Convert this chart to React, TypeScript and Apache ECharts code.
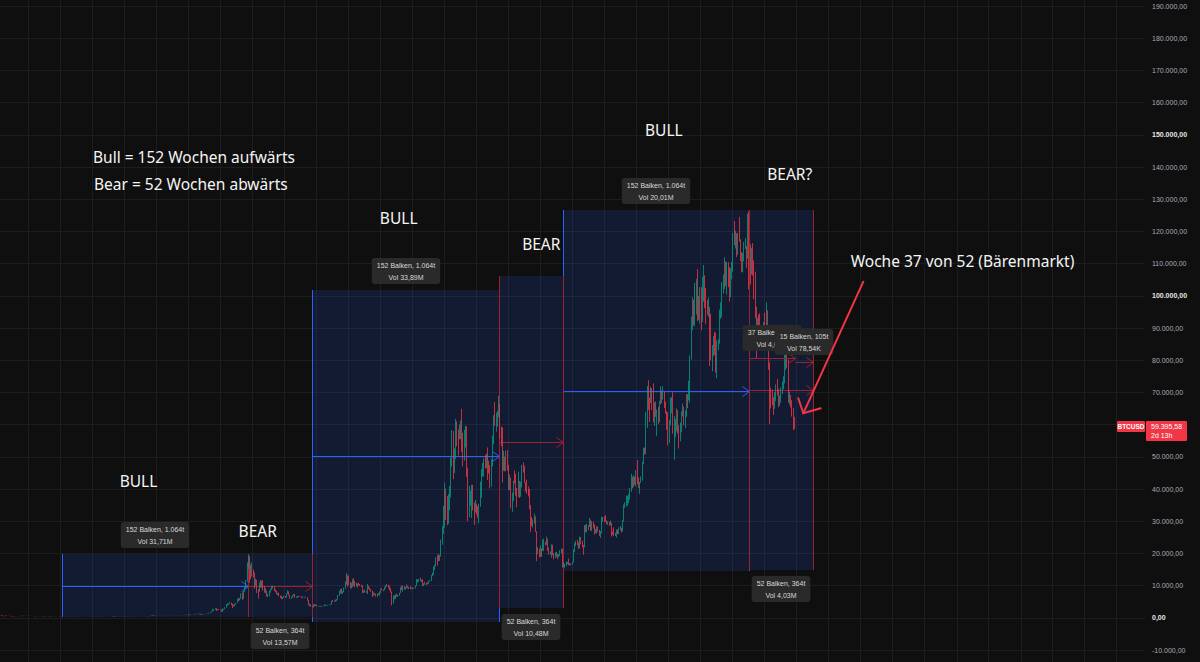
import React, { useEffect, useRef } from "react";
import * as echarts from "echarts";

// ---------- colours & fonts ----------
const BG = "#0f0f0f";
const GRID_COLOR = "#1d1d1d";
const UP = "#089981";
const DOWN = "#f23645";
const RANGE_FILL = "rgba(41, 98, 255, 0.15)";
const BULL_LINE = "#2962ff";
const BEAR_LINE = "#9a2231";
const LABEL_BG = "#2a2a2a";
const LABEL_TEXT = "#d9d9d9";
const NOTE_TEXT = "#f5f5f5";
const ARROW_RED = "#f23645";
const BIG_FONT = '"Noto Sans", "Open Sans", sans-serif';
const SMALL_FONT = '"Liberation Sans", Arial, sans-serif';

// ---------- data: BTCUSD weekly candles, week 0 = 2014-01-20 ----------
// each row = [close, high, low]; a week's open is the previous week's close
const FIRST_OPEN = 820;
const LAST_PRICE = 59395.58;

const w2014 = [[800,870,780],[810,850,790],[680,830,650],[620,710,520],[580,650,450],[560,620,520],[630,700,560],[630,650,610],[570,640,560],[470,590,460],
[450,490,420],[420,460,360],[500,540,410],[440,510,430],[430,460,420],[440,450,420],[450,460,430],[520,530,445],[630,640,515],[650,670,610],
[590,660,580],[590,610,560],[600,610,560],[630,650,595],[630,640,610],[620,630,610],[600,625,590],[590,600,580],[590,600,575],[500,590,470],
[510,530,460],[480,520,470],[480,490,465],[470,485,460],[400,480,390],[400,440,390],[330,400,290],[380,400,320],[390,410,370],[350,390,340],
[330,360,320],[370,380,320],[400,460,360],[370,400,345],[380,390,360],[370,385,350],[350,370,340],[330,350,310],[320,335,310],[280,325,270]];

const w2015 = [[270,300,260],[210,280,170],[260,310,200],[230,270,210],[225,245,210],[260,265,215],[240,260,230],[275,280,235],[290,300,265],[285,300,275],
[260,290,255],[250,270,235],[255,265,240],[225,260,220],[222,230,215],[225,240,220],[240,245,215],[240,245,228],[237,245,232],[240,245,232],
[228,242,222],[225,232,220],[236,238,224],[245,255,235],[250,255,240],[270,272,248],[310,315,265],[275,320,270],[290,300,273],[280,298,276],
[265,285,258],[260,270,255],[230,270,200],[230,235,210],[240,245,225],[230,245,225],[230,235,225],[235,240,226],[240,245,235],[245,250,235],
[265,270,245],[285,290,265],[325,335,285],[380,500,320],[330,385,300],[320,340,310],[360,375,315],[390,400,355],[435,460,385],[440,465,430],
[420,450,410],[430,440,415]];

const w2016 = [[450,460,425],[380,465,360],[400,420,370],[370,400,365],[375,385,365],[405,410,370],[435,445,400],[430,440,405],[410,440,385],[415,420,405],
[410,420,405],[415,420,405],[418,425,410],[420,425,415],[430,433,420],[460,465,428],[450,470,445],[460,465,440],[455,460,445],[445,455,435],
[530,535,440],[580,590,520],[670,690,570],[760,780,660],[660,770,550],[640,700,620],[650,680,610],[665,680,640],[660,675,650],[620,660,610],
[585,630,480],[570,600,560],[580,590,565],[575,585,570],[605,615,570],[610,625,600],[610,615,600],[600,610,590],[615,620,595],[620,625,605],
[640,645,615],[655,660,630],[700,715,650],[705,740,680],[700,720,690],[730,750,690],[730,750,715],[765,770,725],[775,780,755],[790,795,770],
[900,930,785],[1000,1000,890]];

const w2017 = [[900,1150,880],[820,920,750],[920,930,810],[920,930,880],[1020,1040,910],[1000,1070,950],[1050,1060,980],[1180,1200,1050],[1230,1290,1170],[1230,1330,1050],
[970,1250,950],[960,1060,890],[1080,1100,950],[1200,1210,1070],[1180,1210,1160],[1250,1260,1170],[1350,1360,1240],[1550,1620,1340],[1730,1800,1540],[2050,2100,1720],
[2150,2800,2000],[2550,2580,2120],[2950,2990,2500],[2600,2990,2100],[2550,2780,2450],[2500,2600,2300],[2500,2650,2400],[1950,2550,1850],[2750,2900,1900],[2750,2800,2450],
[3200,3300,2650],[4000,4200,3150],[4100,4480,3800],[4350,4400,3950],[4600,4950,4350],[4200,4700,3950],[3700,4400,2980],[3600,4100,3500],[4350,4400,3600],[4600,4650,4150],
[5700,5850,4600],[6000,6200,5100],[5900,6150,5400],[7400,7600,5900],[5950,7900,5500],[8000,8300,5850],[9700,9800,8000],[11200,11800,9000],[15200,17200,11200],[19100,19700,15200],
[14000,19000,10900],[12900,16500,12000]];

const w2018 = [[14000,17200,12800],[13600,15000,12500],[11500,14100,9000],[11600,12200,10000],[8200,11800,7700],[8100,9000,6000],[10300,11000,8000],[9600,11700,9400],[11400,11600,9300],[9200,11700,8400],
[8200,9900,7800],[8500,9200,7700],[7000,8500,6600],[7000,7500,6500],[8350,8400,6600],[8900,9000,7850],[9400,9800,8600],[9650,9990,9100],[8700,9700,8350],[8250,8850,7950],
[7350,8400,7300],[7700,7750,7000],[6750,7800,6700],[6500,6900,6200],[6150,6850,5800],[6350,6450,5800],[6750,6850,6250],[6350,6750,6100],[7400,7500,6250],[8200,8500,7350],
[7050,8250,6900],[6300,7150,5900],[6400,6600,5900],[7050,7100,6300],[7300,7400,6850],[6250,7400,6150],[6500,6600,6150],[6700,6800,6300],[6620,6800,6400],[6600,6700,6450],
[6300,6650,6100],[6450,6600,6350],[6400,6550,6350],[6450,6500,6250],[6350,6600,6300],[5550,6400,5350],[4000,5600,3900],[4100,4400,3600],[3550,4150,3450],[3250,3550,3150],
[4000,4200,3250],[3900,4250,3550],[4050,4100,3650]];

const w2019 = [[3550,4100,3500],[3550,3750,3500],[3550,3650,3450],[3450,3550,3350],[3650,3700,3400],[3650,3700,3550],[3800,4200,3650],[3850,3900,3650],[3900,3950,3700],[4000,4050,3850],
[4000,4100,3900],[4150,4200,3950],[5200,5350,4100],[5100,5450,4950],[5300,5400,4950],[5250,5650,5050],[5750,5850,5200],[7000,7100,5650],[8100,8400,6800],[8700,8950,7500],
[7750,9100,7450],[8000,8300,7450],[8950,9400,7950],[10850,11300,8950],[11900,13900,10300],[11500,13200,9650],[10200,13150,10100],[10850,11100,9100],[9500,10700,9150],[11850,12000,9450],
[10350,12300,10000],[10200,11400,9500],[10150,10900,9800],[10350,10650,9350],[10300,10900,10000],[10250,10450,9900],[10050,10300,9600],[8050,10000,7700],[7850,8500,7750],[8300,8800,7800],
[8250,8450,7750],[9550,10500,7350],[9200,9950,8900],[8800,9400,8650],[8500,8900,8000],[7050,8350,6500],[7550,7900,6850],[7500,7700,7200],[7100,7450,6600],[7500,7550,6450],
[7400,7650,7100],[7750,8200,6850]];

const w2020 = [[8900,9000,7700],[8650,9200,8550],[8600,8800,8250],[9400,9600,8550],[10150,10200,9150],[9900,10500,9700],[9650,10250,9300],[8550,9950,8450],[8050,9200,7800],[5350,8150,3850],
[5850,6950,4450],[5900,6950,5700],[6800,7200,5850],[6650,7450,6550],[7150,7200,6450],[7700,7800,6800],[8900,9450,7650],[8700,10050,8600],[9700,9950,8100],[8900,9850,8800],
[9450,9550,8650],[9650,10400,9350],[9350,9900,9100],[9300,9600,8950],[9000,9800,8850],[9050,9350,8900],[9250,9450,9050],[9150,9300,9000],[9950,10050,9100],[11050,12050,9900],
[11650,11900,10950],[11900,12100,11150],[11650,12450,11350],[11700,11800,11150],[10300,12050,9850],[10350,10700,9900],[10900,11200,10250],[10800,10950,10150],[10650,10950,10400],[11350,11450,10550],
[11500,11700,11200],[13050,13350,11400],[13800,14000,12900],[15500,15950,13250],[16300,16500,14850],[18400,18800,15950],[18200,19450,16200],[19200,19900,17600],[19150,19450,17650],[23850,24300,19000],
[26500,28400,22700],[32200,34800,26050]];

const w2021 = [[38200,41950,28000],[35800,40100,30400],[32300,37800,28800],[34300,38500,29200],[39200,40900,33400],[48600,49700,37400],[57500,58300,47000],[45200,58000,43000],[51200,52600,44950],[59000,61800,49300],
[57600,61000,53300],[55800,58500,50400],[57100,60000,55400],[60000,61300,55500],[56200,64900,51500],[49100,57500,47000],[56600,58400,48800],[58200,59600,52900],[46400,59500,43800],[34700,46600,30000],
[35600,40900,31200],[35800,39500,34800],[39000,41300,31000],[35500,41300,33300],[34700,35800,28800],[35300,36600,32700],[34250,35200,32100],[31800,34700,31100],[35400,35400,29300],[39850,42300,34500],
[45900,46200,37300],[47000,48100,43800],[49300,49500,43900],[48800,50500,46400],[49900,51000,46500],[48300,52900,42800],[47300,48800,44800],[42800,47400,40200],[48200,49200,40700],[54900,56600,47000],
[61500,62900,53900],[60900,67000,59600],[61300,63700,57800],[63300,64300,59400],[65500,69000,62300],[58700,66400,55600],[57200,59400,53300],[49400,59100,42000],[50100,51900,45700],[46700,49500,45500],
[50800,51900,45500],[47300,52100,45700]];

const w2022 = [[41800,47500,39700],[43100,44500,39600],[36300,43500,34000],[37900,38900,32900],[42400,42600,36300],[42200,45800,41700],[38400,44700,37900],[37700,40300,34300],[38000,45400,37500],[37800,42500,37200],
[41300,42300,37600],[46800,47500,40500],[46400,48200,45100],[42150,47200,41900],[39700,41500,39200],[39400,42900,38500],[38500,40800,37700],[34100,40000,33700],[31300,35000,26700],[29400,31300,28600],
[29400,30600,28000],[29900,32400,29200],[26600,31500,26600],[20550,26900,17600],[21000,21900,19700],[19300,21500,18700],[20850,22500,19000],[20800,21600,18900],[22600,24200,20800],[23300,24600,20700],
[23200,23600,22400],[24300,25200,22700],[21500,24500,20800],[20000,21800,19600],[19800,20600,19600],[21800,22800,18600],[20100,22700,19400],[18800,19700,18150],[19300,20400,18500],[19400,20500,19000],
[19200,19900,18200],[19600,19700,18700],[20800,21000,19200],[20900,21500,20000],[16300,21500,15600],[16300,17200,15800],[16450,16800,15500],[17100,17400,16000],[17100,17400,16700],[16750,18400,16300],
[16850,17000,16300],[16550,16900,16300]];

const w2023 = [[17200,17400,16500],[20900,21300,17200],[22700,23300,20400],[23750,23900,22300],[22950,24200,22500],[21800,23400,21400],[24650,25200,21500],[23550,25100,22800],[22150,23900,21900],[22100,22600,19600],
[28000,28800,21900],[27950,28900,26600],[28450,29200,26500],[28300,28800,27200],[30300,31000,28200],[27800,30500,27100],[29250,30000,26900],[28650,29800,27700],[26900,29000,25800],[27100,27600,26300],
[28100,28400,26100],[27100,28400,26700],[25850,27300,25400],[26350,26900,24800],[30500,31400,26200],[30600,31300,29800],[30300,31500,29700],[30250,31800,29900],[29200,30300,29100],[29300,29900,28900],
[29050,29800,28600],[29300,30200,28700],[26100,29500,25200],[26050,26800,25800],[25850,28100,25400],[25850,26400,25400],[26550,27400,24900],[26250,27400,26000],[27950,28100,26000],[27950,28600,27200],
[26850,27900,26500],[29950,30300,26800],[34500,35200,29900],[35050,35900,34100],[37050,38000,34500],[37400,37900,34800],[37450,38400,35600],[39450,40300,36700],[43800,44700,39100],[41300,43500,40200],
[43000,44300,40600],[42150,43800,41300]];

const w2024 = [[43900,45900,40800],[41700,49000,41500],[41600,43600,40300],[42000,42200,38500],[43000,43900,41900],[48300,48500,42600],[52100,52800,47700],[51700,52900,50600],[63100,64000,50900],[68900,72000,59000],
[68400,73800,64600],[67200,68200,60800],[71300,71700,66700],[69400,71300,64500],[63400,72800,60700],[64900,66900,59600],[63100,67200,62400],[64000,64700,56500],[61500,65500,60200],[66900,67400,60700],
[69400,71900,66300],[67800,70600,66600],[69600,71900,68500],[66700,70200,65100],[64200,67200,63400],[62700,63400,58400],[55900,63800,53500],[60800,61400,54300],[68200,68400,59900],[68300,68500,63500],
[58100,70000,57200],[58700,62700,49100],[59000,61800,56100],[64200,65000,57900],[58000,64500,57200],[54900,59800,52600],[59100,60600,54800],[63600,64100,57600],[65600,66500,62600],[62800,64100,59800],
[62900,64400,58900],[69000,69400,62400],[68000,69500,65100],[68800,73600,67500],[80400,81500,66800],[89800,93500,80200],[97900,99600,89400],[97200,98700,90800],[101200,104000,90500],[104400,105200,94200],
[95200,108300,92200],[93700,99900,92500],[98300,102700,91400]];

const w2025 = [[94500,102700,89300],[101300,105900,91900],[102600,109600,98200],[97700,106400,96200],[96500,102500,91200],[96100,98700,94100],[96300,99500,93400],[94200,96500,78200],[80700,94400,80000],[82600,84700,76600],
[86100,87500,81200],[82400,88800,81600],[78400,88500,76200],[83800,86100,74400],[85100,86500,83100],[94000,95700,85100],[94300,97900,92800],[104100,104300,93400],[106500,106600,100700],[109000,112000,102100],
[104600,110700,103100],[105700,110500,100400],[105600,110400,102700],[100900,108900,98200],[108400,108500,99600],[109200,110500,105100],[119100,119500,107500],[117300,123200,115700],[119400,120200,114700],[114200,119300,112000],
[119300,119500,112700],[117400,124500,116800],[113500,117600,110800],[108300,113500,107300],[111100,113400,107300],[115300,116700,110700],[115300,117900,114500],[112200,115400,108600],[123500,125500,111600],[115200,126200,102000],
[108700,116000,103500],[114500,114900,106600],[110600,116400,106300],[104700,111000,98900],[94400,107500,93000],[86800,96600,80600],[90400,93100,85200],[89400,94100,83800],[88200,94600,87500],[88400,90400,84400],
[87800,89600,86400],[91500,91800,86800]];

const w2026 = [[90500,94700,89300],[95100,97900,90200],[88900,95500,87200],[78600,90500,77000],[70500,79300,60100],[68800,71500,65000],[67900,70900,66000],[65300,68500,63000],[68200,70100,64900],[71200,72500,67300],
[70100,74200,69000],[66500,71000,65400],[67300,69000,65900],[70200,71500,66800],[72100,73400,69500],[73500,75000,71000],[79800,82800,72800],[80600,83000,77000],[79200,81600,77500],[67400,80200,66800],
[68600,70300,66200],[66100,69200,65300],[64000,67600,62500],[61000,65100,58300],[LAST_PRICE,62400,58600]];

// ---------- date-range tools (week index from / to, price low / high) ----------
const bullRanges = [[51, 203, 170, 19700], [255, 407, -1200, 101950], [459, 611, 14650, 126600]];
const bearRanges = [[203, 255, 200, 19700], [407, 459, 2950, 106300], [611, 663, 14850, 126600]];
const bullLabels = [["152 Balken, 1.064t", "Vol 31,71M"], ["152 Balken, 1.064t", "Vol 33,89M"], ["152 Balken, 1.064t", "Vol 20,01M"]];
const bearLabels = [["52 Balken, 364t", "Vol 13,57M"], ["52 Balken, 364t", "Vol 10,48M"], ["52 Balken, 364t", "Vol 4,03M"]];
const subRanges = [[611, 648, 80540], [648, 663, 79480]];
const subLabels = [["37 Balken, 259t", "Vol 4,03M"], ["15 Balken, 105t", "Vol 78,54K"]];

// ---------- axis ticks ----------
const Y_MIN = -10000;
const Y_MAX = 190000;
const Y_STEP = 10000;
const BOLD_TICKS = [0, 100000, 150000];
const GRID_YEARS = [2014, 2015, 2016, 2017, 2018, 2019, 2020, 2021, 2022, 2023, 2024, 2025, 2026, 2027, 2028, 2029, 2030, 2031];
const WEEK0 = Date.UTC(2014, 0, 20);
const WEEK_MS = 7 * 86400000;

// ---------- free text notes ----------
const NOTE_TEXTS = ["Bull = 152 Wochen aufwärts", "Bear = 52 Wochen abwärts", "BULL", "BEAR", "BULL", "BEAR", "BULL", "BEAR?", "Woche 37 von 52 (Bärenmarkt)"];

function fmtDe(v: number, dec = 2) {
  const neg = v < 0;
  const a = Math.abs(v);
  const fixed = a.toFixed(dec);
  const [ip, fp] = fixed.split(".");
  const s = ip.replace(/\B(?=(\d{3})+(?!\d))/g, ".");
  return (neg ? "-" : "") + s + (fp ? "," + fp : "");
}

function buildOption() {
  const weeks: number[][] = [...w2014, ...w2015, ...w2016, ...w2017, ...w2018, ...w2019, ...w2020, ...w2021, ...w2022, ...w2023, ...w2024, ...w2025, ...w2026];
  const candles = weeks.map((r, i) => {
    const open = i === 0 ? FIRST_OPEN : weeks[i - 1][0];
    const close = r[0];
    return [i, open, close, Math.min(r[2], open, close), Math.max(r[1], open, close)];
  });

  const gridWeeks: number[][] = [];
  GRID_YEARS.forEach((y) => {
    [0, 6].forEach((m) => {
      const k = (Date.UTC(y, m, 1) - WEEK0) / WEEK_MS;
      if (k > 0.5) gridWeeks.push([k, 0]);
    });
  });

  const labelStyle = (lines: string[], below: boolean) => ({
    text: lines.join("\n"),
    fill: LABEL_TEXT,
    fontSize: 7,
    fontFamily: SMALL_FONT,
    align: "center",
    textAlign: "center",
    verticalAlign: below ? "top" : "bottom",
    textVerticalAlign: below ? "top" : "bottom",
    backgroundColor: LABEL_BG,
    padding: [1, 5],
    borderRadius: 3,
    lineHeight: 12,
  });

  const vbar = (x: number, y0: number, y1: number, color: string) => ({
    type: "rect",
    shape: { x: x, y: y0, width: 1, height: y1 - y0 },
    style: { fill: color, stroke: null },
  });

  const rangeRender = (color: string) => (params: any, api: any) => {
    const a = api.coord([api.value(0), api.value(3)]);
    const b = api.coord([api.value(1), api.value(2)]);
    const x0 = Math.round(a[0]);
    const x1 = Math.round(b[0]);
    const y0 = Math.round(a[1]);
    const y1 = Math.round(b[1]);
    const ym = Math.round((y0 + y1) / 2) + 0.5;
    return {
      type: "group",
      children: [
        { type: "rect", shape: { x: x0, y: y0, width: x1 - x0, height: y1 - y0 }, style: { fill: RANGE_FILL, stroke: null } },
        vbar(x0, y0, y1, color),
        vbar(x1, y0, y1, color),
        { type: "line", shape: { x1: x0, y1: ym, x2: x1 + 0.5, y2: ym }, style: { stroke: color, lineWidth: 1 } },
        { type: "polyline", shape: { points: [[x1 - 6.5, ym - 5], [x1 + 0.5, ym], [x1 - 6.5, ym + 5]] }, style: { stroke: color, lineWidth: 1, fill: "none" } },
      ],
    };
  };

  const rangeLabelRender = (labels: string[][], below: boolean) => (params: any, api: any) => {
    const a = api.coord([api.value(0), api.value(3)]);
    const b = api.coord([api.value(1), api.value(2)]);
    const cx = Math.round((a[0] + b[0]) / 2);
    return {
      type: "text",
      x: cx,
      y: below ? Math.round(b[1]) + 6 : Math.round(a[1]) - 6,
      style: labelStyle(labels[params.dataIndex], below),
    };
  };

  const subRender = (params: any, api: any) => {
    const a = api.coord([api.value(0), api.value(2)]);
    const b = api.coord([api.value(1), api.value(2)]);
    const y = Math.round(a[1]) + 0.5;
    const x0 = Math.round(a[0]) + 0.5;
    const x1 = Math.round(b[0]) + 0.5;
    return {
      type: "group",
      children: [
        { type: "line", shape: { x1: x0, y1: y, x2: x1, y2: y }, style: { stroke: BEAR_LINE, lineWidth: 1 } },
        { type: "polyline", shape: { points: [[x1 - 7, y - 5], [x1, y], [x1 - 7, y + 5]] }, style: { stroke: BEAR_LINE, lineWidth: 1, fill: "none" } },
      ],
    };
  };

  const subLabelRender = (params: any, api: any) => {
    const a = api.coord([api.value(0), api.value(2)]);
    const b = api.coord([api.value(1), api.value(2)]);
    return {
      type: "text",
      x: Math.round((a[0] + b[0]) / 2),
      y: Math.round(a[1]) - 7,
      style: labelStyle(subLabels[params.dataIndex], false),
    };
  };

  const priceTagRender = (params: any, api: any) => {
    const p = api.coord([api.value(0), api.value(1)]);
    const cs = params.coordSys;
    const xr = cs.x + cs.width;
    const y = p[1];
    const txt = (text: string, x: number, yy: number, align: string, bold: boolean, size: number) => ({
      type: "text",
      x,
      y: yy,
      style: { text, fill: "#ffffff", fontSize: size, fontWeight: bold ? "bold" : "normal", fontFamily: SMALL_FONT, align, textAlign: align, verticalAlign: "middle", textVerticalAlign: "middle" },
    });
    return {
      type: "group",
      children: [
        { type: "rect", shape: { x: xr - 28, y: y - 5.5, width: 28, height: 11, r: 1 }, style: { fill: ARROW_RED } },
        txt("BTCUSD", xr - 14, y, "center", true, 6.5),
        { type: "rect", shape: { x: xr + 1, y: y - 5.5, width: 41, height: 20, r: 1 }, style: { fill: ARROW_RED } },
        txt(fmtDe(api.value(1)), xr + 6, y, "left", false, 7),
        txt("2d 13h", xr + 6, y + 9, "left", false, 7),
      ],
    };
  };

  const noteLayout = [
    { x: 93, y: 156.5, align: "left" },
    { x: 94, y: 184, align: "left" },
    { x: 138.5, y: 480.5, align: "center" },
    { x: 257.7, y: 531.2, align: "center" },
    { x: 398.7, y: 218.3, align: "center" },
    { x: 541.3, y: 243.7, align: "center" },
    { x: 663.8, y: 130.3, align: "center" },
    { x: 789.7, y: 173.7, align: "center" },
    { x: 850.7, y: 260.5, align: "left" },
  ];

  const graphic: any[] = NOTE_TEXTS.map((t, i) => ({
    type: "text",
    x: noteLayout[i].x,
    y: noteLayout[i].y,
    z: 100,
    style: {
      text: t,
      fill: NOTE_TEXT,
      fontSize: 15.5,
      fontFamily: BIG_FONT,
      align: noteLayout[i].align,
      textAlign: noteLayout[i].align,
      verticalAlign: "middle",
      textVerticalAlign: "middle",
    },
  }));
  graphic.push(
    { type: "line", z: 100, shape: { x1: 863.3, y1: 281.7, x2: 803.3, y2: 413.3 }, style: { stroke: ARROW_RED, lineWidth: 2, lineCap: "round" } },
    { type: "polyline", z: 100, shape: { points: [[798.3, 398.3], [803.3, 413.3], [820.7, 408.3]] }, style: { stroke: ARROW_RED, lineWidth: 2, fill: null, lineCap: "round", lineJoin: "round" } }
  );

  return {
    animation: false,
    backgroundColor: BG,
    grid: { left: 0, right: 55, top: 6, bottom: 12, containLabel: false },
    xAxis: { type: "value", min: 0.5, max: 933.6, show: false },
    yAxis: {
      type: "value",
      position: "right",
      min: Y_MIN,
      max: Y_MAX,
      interval: Y_STEP,
      axisLine: { show: false },
      axisTick: { show: false },
      splitLine: { show: true, lineStyle: { color: GRID_COLOR, width: 1 } },
      axisLabel: {
        margin: 7,
        formatter: (v: number) => (BOLD_TICKS.indexOf(v) >= 0 ? `{b|${fmtDe(v)}}` : `{n|${fmtDe(v)}}`),
        rich: {
          b: { color: "#e6e6e6", fontWeight: "bold", fontSize: 7, fontFamily: SMALL_FONT },
          n: { color: "#a8abb3", fontSize: 7, fontFamily: SMALL_FONT },
        },
      },
    },
    series: [
      {
        type: "custom",
        name: "vgrid",
        silent: true,
        z: 0,
        data: gridWeeks,
        encode: { x: 0, y: 1 },
        renderItem: (params: any, api: any) => {
          const x = Math.round(api.coord([api.value(0), 0])[0]) + 0.5;
          return { type: "line", shape: { x1: x, y1: 0, x2: x, y2: 662 }, style: { stroke: GRID_COLOR, lineWidth: 1 } };
        },
      },
      { type: "custom", name: "bullRanges", silent: true, z: 1, data: bullRanges, encode: { x: [0, 1], y: [2, 3] }, renderItem: rangeRender(BULL_LINE) },
      { type: "custom", name: "bearRanges", silent: true, z: 2, data: bearRanges, encode: { x: [0, 1], y: [2, 3] }, renderItem: rangeRender(BEAR_LINE) },
      {
        type: "candlestick",
        name: "BTCUSD",
        z: 3,
        large: false,
        data: candles,
        encode: { x: 0, y: [1, 2, 3, 4] },
        barWidth: 0.5,
        itemStyle: { color: UP, color0: DOWN, borderColor: UP, borderColor0: DOWN, borderWidth: 0.8 },
        emphasis: { disabled: true },
      },
      { type: "custom", name: "subRanges", silent: true, z: 4, data: subRanges, encode: { x: [0, 1], y: 2 }, renderItem: subRender },
      { type: "custom", name: "bullLabels", silent: true, z: 5, data: bullRanges, encode: { x: [0, 1], y: [2, 3] }, renderItem: rangeLabelRender(bullLabels, false) },
      { type: "custom", name: "bearLabels", silent: true, z: 5, data: bearRanges, encode: { x: [0, 1], y: [2, 3] }, renderItem: rangeLabelRender(bearLabels, true) },
      { type: "custom", name: "subLabels", silent: true, z: 6, data: subRanges, encode: { x: [0, 1], y: 2 }, renderItem: subLabelRender },
      { type: "custom", name: "priceTag", silent: true, z: 7, data: [[weeks.length - 1, LAST_PRICE]], encode: { x: 0, y: 1 }, renderItem: priceTagRender },
    ],
    graphic,
  };
}

export default function App() {
  const ref = useRef<HTMLDivElement>(null);
  useEffect(() => {
    document.body.style.margin = "0";
    document.body.style.background = BG;
    const chart = echarts.init(ref.current as HTMLDivElement, null, { renderer: "svg" });
    chart.setOption(buildOption() as any);
    return () => chart.dispose();
  }, []);
  return <div ref={ref} style={{ position: "fixed", left: 0, top: 0, width: 1200, height: 662, background: BG }} />;
}
